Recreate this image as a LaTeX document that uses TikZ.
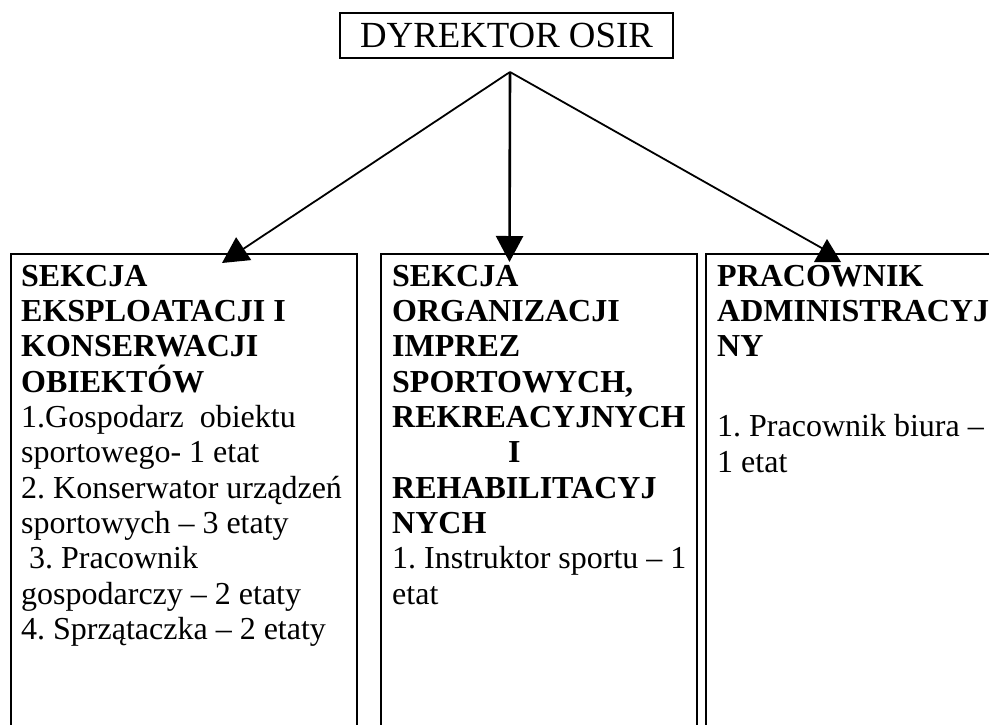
\documentclass[tikz,border=0pt]{standalone}
\usepackage{fontspec}
\setmainfont{Liberation Serif}
\usepackage{tikz}
\usetikzlibrary{arrows.meta}
\usetikzlibrary{positioning}
\frenchspacing
\tikzset{>={Triangle[length=26pt,width=27pt]}}
\tikzset{
    sekcja/.style={draw, line width=1.8pt, anchor=north west, inner sep=0pt, minimum height=560pt},
    opis/.style={anchor=north west, align=left, inner sep=0pt, font=\fontsize{32}{35.3}\selectfont},
    strzalka/.style={->, line width=1.8pt}
}

\begin{document}
\begin{tikzpicture}[x=1pt, y=-1pt]

    \useasboundingbox (0,0) rectangle (989,724);
    \clip (0,0) rectangle (989,724);

    \node[draw, line width=1.8pt, inner sep=0pt, minimum width=333pt, minimum height=45pt,
          font=\fontsize{36.8}{40}\selectfont] (dyrektor) at (506.5,35.5) {DYREKTOR OSIR};

    \node[sekcja, minimum width=346pt] (sekA) at (10,253) {};
    \node[sekcja, minimum width=316pt] (sekB) at (380,253) {};
    \node[sekcja, minimum width=320pt] (sekC) at (705,253) {};

    \node[opis] (tekstA) at (21,265) {\textbf{SEKCJA}\\
        \textbf{EKSPLOATACJI I}\\
        \textbf{KONSERWACJI}\\
        \textbf{OBIEKTÓW}\\
        1.Gospodarz\ \ obiektu\\
        sportowego- 1 etat\\
        2. Konserwator urządzeń\\
        sportowych – 3 etaty\\
        \hspace*{8pt}3. Pracownik\\
        gospodarczy – 2 etaty\\
        4. Sprzątaczka – 2 etaty};

    \node[opis] (tekstB) at (392,265) {\textbf{SEKCJA}\\
        \textbf{ORGANIZACJI}\\
        \textbf{IMPREZ}\\
        \textbf{SPORTOWYCH,}\\
        \textbf{REKREACYJNYCH}\\
        \hspace*{116pt}\textbf{I}\\
        \textbf{REHABILITACYJ}\\
        \textbf{NYCH}\\
        1. Instruktor sportu – 1\\
        etat};

    \node[opis] (tekstC) at (717,265) {\textbf{PRACOWNIK}\\
        \textbf{ADMINISTRACYJ}\\
        \textbf{NY}\\[44.7pt]
        1. Pracownik biura –\\
        1 etat};

    % rozgalezienie pod dyrektorem
    \coordinate (fork) at (510,72);
    \coordinate (grotA) at (222,263);
    \coordinate (grotB) at (509.5,262);
    \coordinate (grotC) at (827,251);

    \draw[strzalka] (fork) -- (grotA);
    \draw[strzalka, line width=2.6pt] (fork) -- (grotB);
    \draw[line width=1.8pt] (fork) -- (grotC);
    \fill (827,239) -- (814,262) -- (841,262) -- cycle; % grot w gore jak w oryginale

\end{tikzpicture}
\end{document}
